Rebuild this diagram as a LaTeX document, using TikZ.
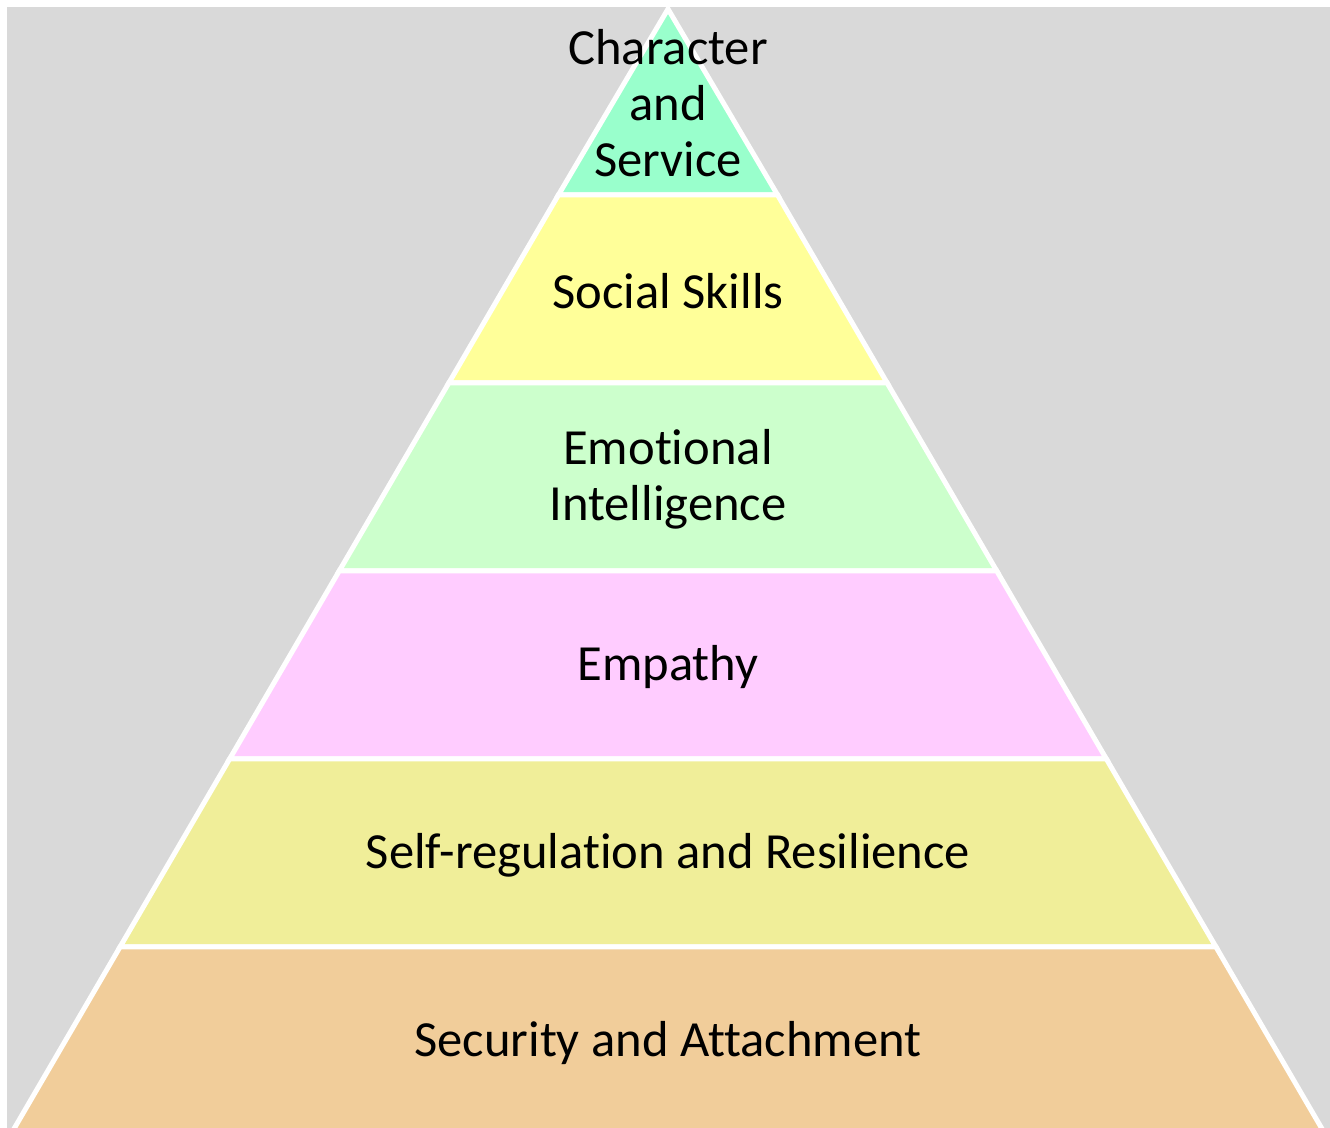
\documentclass[tikz,border=0pt]{standalone}
\usepackage{fontspec}
\setmainfont{Carlito}[Ligatures={NoCommon}]
\usetikzlibrary{positioning}

\definecolor{bggray}{HTML}{D9D9D9}
\definecolor{mintgreen}{HTML}{99FFCC}
\definecolor{paleyellow}{HTML}{FFFF99}
\definecolor{palegreen}{HTML}{CCFFCC}
\definecolor{palepink}{HTML}{FFCCFF}
\definecolor{palekhaki}{HTML}{F0EE99}
\definecolor{palepeach}{HTML}{F1CD9A}

\begin{document}
\begin{tikzpicture}
    [x=0.5pt, y=-0.5pt,
    % STYLES
    % The layer style is used to fill each level of the pyramid
    layer/.style={draw=white, line width=2.5pt, line join=miter},
    % The level style is used to write the name of each level
    level/.style={align=center, inner sep=0pt, font=\fontsize{25.3}{28}\selectfont}]

    \useasboundingbox (0,0) rectangle (1330,1128);
    \clip (0,0) rectangle (1330,1128);
    \fill[bggray] (7,7) rectangle (1330,1128);

    % Draw levels
    \filldraw[layer, fill=mintgreen] (668,9) -- (777.6,195) -- (558.4,195) -- cycle;
    \filldraw[layer, fill=paleyellow] (558.4,195) -- (777.6,195) -- (887.2,383) -- (448.8,383) -- cycle;
    \filldraw[layer, fill=palegreen] (448.8,383) -- (887.2,383) -- (996.8,571) -- (339.2,571) -- cycle;
    \filldraw[layer, fill=palepink] (339.2,571) -- (996.8,571) -- (1106.4,759) -- (229.6,759) -- cycle;
    \filldraw[layer, fill=palekhaki] (229.6,759) -- (1106.4,759) -- (1216,947) -- (120,947) -- cycle;
    \filldraw[layer, fill=palepeach] (120,947) -- (1216,947) -- (1325.6,1135) -- (10.4,1135) -- cycle;

    % Draw names
    \node [level] (character) at (668,103) {Character\\and\\Service};
    \node [level] (social) at (668,291) {Social Skills};
    \node [level] (emotional) at (668,479) {Emotional\\Intelligence};
    \node [level] (empathy) at (668,667) {Empathy};
    \node [level] (selfreg) at (668,855) {Self-regulation and Resilience};
    \node [level] (security) at (668,1043) {Security and Attachment};
\end{tikzpicture}
\end{document}
